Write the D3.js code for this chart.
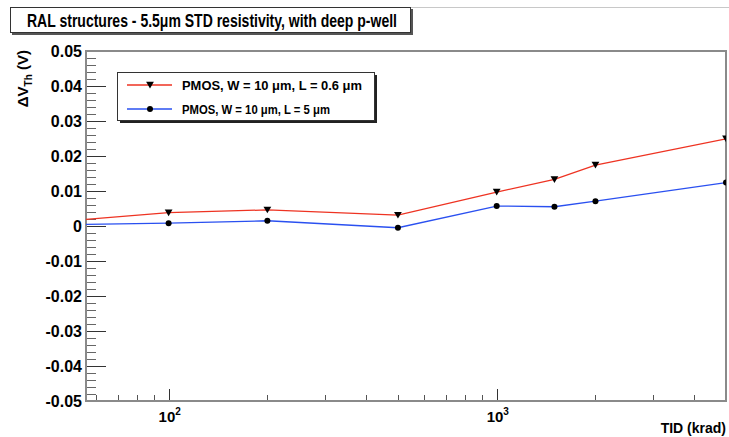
<!DOCTYPE html>
<html>
<head>
<meta charset="utf-8">
<script src="https://cdn.jsdelivr.net/npm/d3@7"></script>
<style>
  html, body { margin: 0; padding: 0; background: #fff; }
  svg { display: block; }
  text { font-family: "Liberation Sans", Arial, Helvetica, sans-serif; font-weight: bold; fill: #000; }
</style>
</head>
<body>
<svg id="chart" width="729" height="437"></svg>
<script>
// ---- data ----
const doses = [50, 100, 200, 500, 1000, 1500, 2000, 5000];           // TID (krad)
const seriesNames = ["PMOS, W = 10 \u03bcm, L = 0.6 \u03bcm", "PMOS, W = 10 \u03bcm, L = 5 \u03bcm"];
const dvthShort = [0.0015, 0.0038, 0.0046, 0.0031, 0.0097, 0.0133, 0.0174, 0.0249]; // L = 0.6 um
const dvthLong  = [0.0004, 0.0008, 0.0015, -0.0005, 0.0057, 0.0055, 0.0071, 0.0124]; // L = 5 um
const yTicks = [-0.05, -0.04, -0.03, -0.02, -0.01, 0, 0.01, 0.02, 0.03, 0.04, 0.05];
const yTickLabels = ["-0.05", "-0.04", "-0.03", "-0.02", "-0.01", "0", "0.01", "0.02", "0.03", "0.04", "0.05"];
const xMajor = [100, 1000];
const xMajorExp = ["2", "3"];
const xDomain = [56, 5000];
const yDomain = [-0.05, 0.05];
const titleText = "RAL structures - 5.5\u03bcm STD resistivity, with deep p-well";

// ---- layout ----
const svg = d3.select("#chart");
const L = 86, R = 726, T = 51, B = 401;
const x = d3.scaleLog().domain(xDomain).range([L, R]);
const y = d3.scaleLinear().domain(yDomain).range([B, T]);
const colors = ["#ee3322", "#2a50f0"];

// faint canvas line at top
svg.append("line").attr("x1", 410).attr("x2", 729).attr("y1", 7.5).attr("y2", 7.5)
  .attr("stroke", "#c8c8c8").attr("stroke-width", 1);

// title box with shadow
svg.append("rect").attr("x", 12).attr("y", 9).attr("width", 401).attr("height", 26).attr("fill", "#555");
svg.append("rect").attr("x", 10.5).attr("y", 7.5).attr("width", 400).attr("height", 25)
  .attr("fill", "#fff").attr("stroke", "#333").attr("stroke-width", 1);
svg.append("text").attr("x", 212).attr("y", 27).attr("text-anchor", "middle")
  .attr("font-size", 19).attr("textLength", 370).attr("lengthAdjust", "spacingAndGlyphs")
  .text(titleText);

// clip for data
svg.append("clipPath").attr("id", "plotclip").append("rect")
  .attr("x", L).attr("y", T).attr("width", R - L).attr("height", B - T);

// y ticks (inside, on the left edge)
const yMinor = d3.range(-0.05, 0.0501, 0.002).map(v => +v.toFixed(4));
svg.append("g").selectAll("line").data(yMinor).join("line")
  .attr("x1", L).attr("x2", L + 10)
  .attr("y1", d => Math.round(y(d)) + 0.5).attr("y2", d => Math.round(y(d)) + 0.5)
  .attr("stroke", "#666").attr("stroke-width", 1);
svg.append("g").selectAll("line").data(yTicks).join("line")
  .attr("x1", L).attr("x2", L + 20)
  .attr("y1", d => Math.round(y(d)) + 0.5).attr("y2", d => Math.round(y(d)) + 0.5)
  .attr("stroke", "#333").attr("stroke-width", 1);
svg.append("g").selectAll("text").data(yTicks).join("text")
  .attr("x", L - 4).attr("y", d => y(d) + 6)
  .attr("text-anchor", "end").attr("font-size", 16)
  .text((d, i) => yTickLabels[i]);

// x ticks (inside, upward from bottom)
const xMinor = [];
[10, 100, 1000].forEach(dec => { for (let k = 2; k <= 9; k++) { const v = dec * k; if (v >= xDomain[0] && v <= xDomain[1]) xMinor.push(v); } });
svg.append("g").selectAll("line").data(xMinor).join("line")
  .attr("x1", d => Math.round(x(d)) + 0.5).attr("x2", d => Math.round(x(d)) + 0.5)
  .attr("y1", B).attr("y2", B - 6)
  .attr("stroke", "#555").attr("stroke-width", 1);
svg.append("g").selectAll("line").data(xMajor).join("line")
  .attr("x1", d => Math.round(x(d)) + 0.5).attr("x2", d => Math.round(x(d)) + 0.5)
  .attr("y1", B).attr("y2", B - 12)
  .attr("stroke", "#333").attr("stroke-width", 1);
const xl = svg.append("g").selectAll("text").data(xMajor).join("text")
  .attr("x", d => x(d) - 10).attr("y", 422)
  .attr("font-size", 15);
xl.append("tspan").text("10");
xl.append("tspan").attr("dy", -7).attr("font-size", 10).text((d, i) => xMajorExp[i]);

// frame
svg.append("rect").attr("x", L).attr("y", T).attr("width", R - L).attr("height", B - T)
  .attr("fill", "none").attr("stroke", "#8a8a8a").attr("stroke-width", 2);

// axis titles
svg.append("text").attr("x", 726).attr("y", 433).attr("text-anchor", "end")
  .attr("font-size", 14).text("TID (krad)");
const yt = svg.append("text").attr("transform", "translate(28,50) rotate(-90)")
  .attr("text-anchor", "end").attr("font-size", 15);
yt.append("tspan").text("\u0394V");
yt.append("tspan").attr("dy", 4).attr("font-size", 10).text("Th");
yt.append("tspan").attr("dy", -4).text(" (V)");

// data lines
const series = [dvthShort, dvthLong];
const lineGen = d3.line().x((d, i) => x(doses[i])).y(d => y(d));
const dataG = svg.append("g").attr("clip-path", "url(#plotclip)");
series.forEach((s, si) => {
  dataG.append("path").datum(s).attr("d", lineGen)
    .attr("fill", "none").attr("stroke", colors[si]).attr("stroke-width", 1.3);
});
const inside = d => d >= xDomain[0] && d <= xDomain[1];
const tri = d3.symbol().type(d3.symbolTriangle).size(26);
// markers (down triangles for short, circles for long)
dataG.append("g").selectAll("path").data(doses.map((d, i) => [d, dvthShort[i]]).filter(p => inside(p[0])))
  .join("path").attr("d", tri)
  .attr("transform", p => `translate(${x(p[0])},${y(p[1]) - 1}) rotate(180)`)
  .attr("fill", "#000");
dataG.append("g").selectAll("circle").data(doses.map((d, i) => [d, dvthLong[i]]).filter(p => inside(p[0])))
  .join("circle").attr("cx", p => x(p[0])).attr("cy", p => y(p[1])).attr("r", 3)
  .attr("fill", "#000");

// legend
const lg = svg.append("g");
lg.append("rect").attr("x", 120).attr("y", 75).attr("width", 257).attr("height", 48).attr("fill", "#222");
lg.append("rect").attr("x", 117.5).attr("y", 72.5).attr("width", 257).attr("height", 48)
  .attr("fill", "#fff").attr("stroke", "#333").attr("stroke-width", 1);
const legY = [85, 109];
seriesNames.forEach((name, i) => {
  lg.append("line").attr("x1", 127).attr("x2", 172).attr("y1", legY[i]).attr("y2", legY[i])
    .attr("stroke", colors[i]).attr("stroke-width", 1.3);
  lg.append("text").attr("x", 182).attr("y", legY[i] + 4.5).attr("font-size", 12)
    .attr("textLength", i === 0 ? 180 : 148).attr("lengthAdjust", "spacingAndGlyphs").text(name);
});
lg.append("path").attr("d", tri).attr("transform", `translate(150,${legY[0] - 1}) rotate(180)`).attr("fill", "#000");
lg.append("circle").attr("cx", 150).attr("cy", legY[1]).attr("r", 3).attr("fill", "#000");
</script>
</body>
</html>
